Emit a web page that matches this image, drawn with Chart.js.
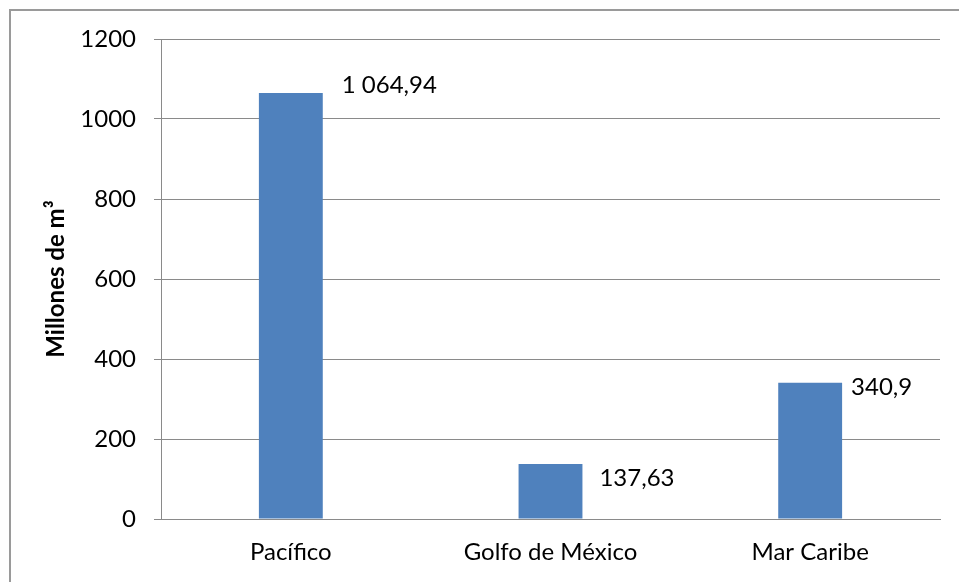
<!DOCTYPE html>
<html>
<head>
<meta charset="utf-8">
<script src="https://cdn.jsdelivr.net/npm/chart.js@4"></script>
<style>
  html, body { margin: 0; padding: 0; background: #fff; overflow: hidden; }
  #wrap { position: absolute; left: 0; top: 0; width: 959px; height: 582px; }
  #frame { position: absolute; left: 9px; top: 9px; width: 980px; height: 600px;
           border-top: 2px solid #9a9a9a; border-left: 2px solid #9a9a9a; pointer-events: none; }
</style>
</head>
<body>
<div id="wrap"><canvas id="myChart" width="959" height="582"></canvas></div>
<div id="frame"></div>
<script>
var categories = ["Pacífico", "Golfo de México", "Mar Caribe"];
var volumes = [1064.94, 137.63, 340.9];
var yTicks = [0, 200, 400, 600, 800, 1000, 1200];

// formato es: espacio para miles, coma decimal
function fmt(v) {
    var parts = String(v).split(".");
    var ent = parts[0].replace(/\B(?=(\d{3})+(?!\d))/g, " ");
    return parts.length > 1 ? ent + "," + parts[1] : ent;
}

var valueLabels = {
    id: "valueLabels",
    afterDatasetsDraw: function (chart, args, opts) {
        var ctx = chart.ctx;
        var meta = chart.getDatasetMeta(0);
        ctx.save();
        ctx.font = "24px Lato";
        ctx.fillStyle = "#000";
        ctx.textAlign = "left";
        ctx.textBaseline = "middle";
        meta.data.forEach(function (bar, i) {
            var right = bar.x + bar.width / 2;
            ctx.fillText(fmt(volumes[i]), right + opts.dx[i], bar.y + opts.dy[i]);
        });
        ctx.restore();
    }
};

var ctx = document.getElementById('myChart').getContext('2d');
var chart = new Chart(ctx, {
    type: 'bar',
    data: {
        labels: categories,
        datasets: [{
            data: volumes,
            backgroundColor: '#4F81BD',
            categoryPercentage: 1,
            barPercentage: 0.246
        }]
    },
    options: {
        responsive: false,
        animation: false,
        layout: { padding: { top: 39, right: 19, bottom: 0, left: 0 } },
        plugins: {
            legend: { display: false },
            tooltip: { enabled: false },
            valueLabels: { dx: [19, 17, 9], dy: [-8, 14, 5] }
        },
        scales: {
            x: {
                grid: { display: false, drawTicks: false },
                border: { display: true, color: '#8a8a8a', width: 1 },
                ticks: { color: '#000', font: { family: 'Lato', size: 24 }, padding: 19 },
                afterFit: function (s) { s.height = 63; }
            },
            y: {
                min: 0,
                max: 1200,
                afterBuildTicks: function (s) { s.ticks = yTicks.map(function (v) { return { value: v }; }); },
                grid: { color: '#8a8a8a', lineWidth: 1, tickLength: 7 },
                border: { display: true, color: '#8a8a8a', width: 1 },
                ticks: {
                    color: '#000',
                    font: { family: 'Lato', size: 24 },
                    padding: 18,
                    callback: function (v) { return String(v); }
                },
                title: {
                    display: true,
                    text: 'Millones de m³',
                    color: '#000',
                    font: { family: 'Lato', size: 24, weight: 'bold' },
                    padding: { top: 42, bottom: 0 }
                },
                afterFit: function (s) { s.width = 161; }
            }
        }
    },
    plugins: [valueLabels]
});
</script>
</body>
</html>
